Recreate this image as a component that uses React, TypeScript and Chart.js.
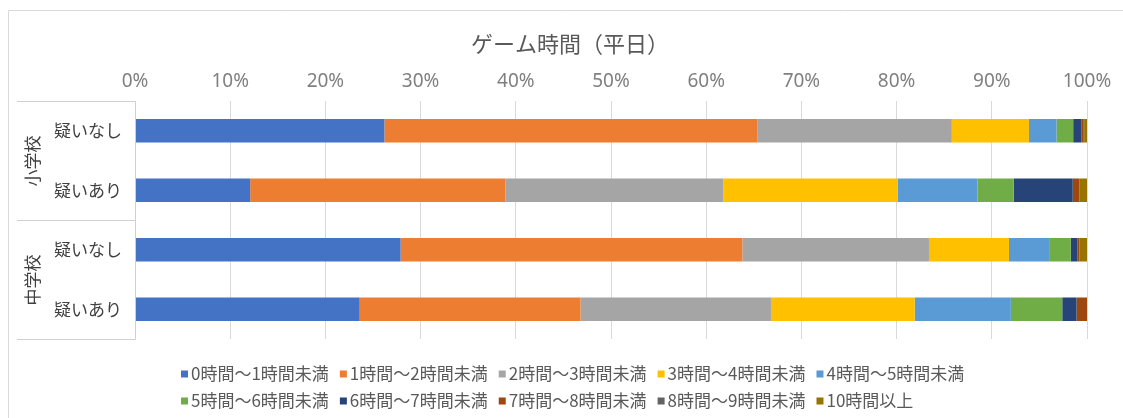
import React, { useEffect, useRef } from 'react';
import { Chart, registerables } from 'chart.js';

Chart.register(...registerables);

const TITLE = 'ゲーム時間（平日）';
const CATEGORIES = ['疑いなし', '疑いあり', '疑いなし', '疑いあり'];
const GROUPS = ['小学校', '中学校'];
const SERIES_NAMES = [
  '0時間～1時間未満',
  '1時間～2時間未満',
  '2時間～3時間未満',
  '3時間～4時間未満',
  '4時間～5時間未満',
  '5時間～6時間未満',
  '6時間～7時間未満',
  '7時間～8時間未満',
  '8時間～9時間未満',
  '10時間以上',
];
const COLORS = ['#4472C4', '#ED7D31', '#A5A5A5', '#FFC000', '#5B9BD5', '#70AD47', '#264478', '#9E480E', '#636363', '#997300'];

const S0 = [26.2, 12.1, 27.9, 23.6];
const S1 = [39.2, 26.8, 35.9, 23.2];
const S2 = [20.4, 22.9, 19.6, 20.0];
const S3 = [8.1, 18.3, 8.4, 15.1];
const S4 = [2.9, 8.4, 4.3, 10.1];
const S5 = [1.75, 3.8, 2.2, 5.4];
const S6 = [0.85, 6.2, 0.7, 1.5];
const S7 = [0.2, 0.7, 0.2, 1.1];
const S8 = [0.1, 0, 0, 0];
const S9 = [0.3, 0.8, 0.8, 0];
const SERIES = [S0, S1, S2, S3, S4, S5, S6, S7, S8, S9];

const X_TICKS = [0, 10, 20, 30, 40, 50, 60, 70, 80, 90, 100];

const JP = '"Noto Sans CJK JP", "Noto Sans", sans-serif';

const decorPlugin = {
  id: 'decor',
  afterDraw(chart: any) {
    const ctx = chart.ctx as CanvasRenderingContext2D;
    const area = chart.chartArea;
    const y = chart.scales.y;
    ctx.save();

    // outer frame
    ctx.strokeStyle = '#d9d9d9';
    ctx.lineWidth = 1;
    ctx.beginPath();
    ctx.moveTo(8.5, 418);
    ctx.lineTo(8.5, 10.5);
    ctx.lineTo(1123, 10.5);
    ctx.stroke();

    // title
    ctx.fillStyle = '#595959';
    ctx.font = '22px ' + JP;
    ctx.textAlign = 'center';
    ctx.textBaseline = 'middle';
    ctx.fillText(TITLE, 570, 44);

    // category separators
    const p1 = y.getPixelForValue(1);
    const p2 = y.getPixelForValue(2);
    const mid = Math.round((p1 + p2) / 2) + 0.5;
    const top = Math.round(area.top) + 0.5;
    const bot = Math.round(area.bottom) + 0.5;
    const axX = Math.round(area.left) + 0.5;
    ctx.strokeStyle = '#d0d0d0';
    ctx.beginPath();
    [top, mid, bot].forEach((yy) => {
      ctx.moveTo(17, yy);
      ctx.lineTo(axX, yy);
    });
    ctx.moveTo(axX, top);
    ctx.lineTo(axX, bot);
    ctx.stroke();

    // inner labels
    ctx.fillStyle = '#404040';
    ctx.font = '17px ' + JP;
    ctx.textAlign = 'right';
    ctx.textBaseline = 'middle';
    CATEGORIES.forEach((lab, i) => {
      ctx.fillText(lab, 122, y.getPixelForValue(i));
    });

    // group labels (vertical)
    const groupCenters = [(top + mid) / 2, (mid + bot) / 2];
    GROUPS.forEach((g, i) => {
      ctx.save();
      ctx.translate(33, groupCenters[i]);
      ctx.rotate(-Math.PI / 2);
      ctx.textAlign = 'center';
      ctx.textBaseline = 'middle';
      ctx.fillText(g, 0, 0);
      ctx.restore();
    });

    // legend
    ctx.font = '17px ' + JP;
    ctx.textAlign = 'left';
    ctx.textBaseline = 'middle';
    ctx.fillStyle = '#595959';
    const rows = [[0, 1, 2, 3, 4], [5, 6, 7, 8, 9]];
    const rowY = [374, 401];
    rows.forEach((row, r) => {
      let x = 181;
      row.forEach((i) => {
        ctx.fillStyle = COLORS[i];
        ctx.fillRect(x, rowY[r] - 3.5, 7, 7);
        ctx.fillStyle = '#595959';
        ctx.fillText(SERIES_NAMES[i], x + 10, rowY[r]);
        x += 10 + ctx.measureText(SERIES_NAMES[i]).width + 11;
      });
    });

    ctx.restore();
  },
};

export default function App() {
  const ref = useRef<HTMLCanvasElement | null>(null);

  useEffect(() => {
    document.body.style.margin = '0';
    document.body.style.overflow = 'hidden';
    const canvas = ref.current;
    if (!canvas) return;
    const chart = new Chart(canvas, {
      type: 'bar',
      data: {
        labels: CATEGORIES,
        datasets: SERIES.map((s, i) => ({
          label: SERIES_NAMES[i],
          data: s,
          backgroundColor: COLORS[i],
          borderWidth: 0,
          barPercentage: 0.395,
          categoryPercentage: 1,
        })),
      },
      options: {
        indexAxis: 'y',
        responsive: false,
        animation: false,
        layout: { padding: { top: 67, left: 135, right: 36, bottom: 79 } },
        plugins: {
          legend: { display: false },
          title: { display: false },
          tooltip: { enabled: false },
        },
        scales: {
          x: {
            type: 'linear',
            position: 'top',
            stacked: true,
            min: 0,
            max: 100,
            afterBuildTicks: (scale: any) => {
              scale.ticks = X_TICKS.map((v) => ({ value: v }));
            },
            afterFit: (scale: any) => {
              scale.height = 34;
            },
            ticks: {
              callback: (v: any) => v + '%',
              color: '#808080',
              font: { family: '"Noto Sans", sans-serif', size: 19 },
              padding: 8,
              maxRotation: 0,
            },
            grid: { color: '#d9d9d9', drawTicks: false },
            border: { display: false },
          },
          y: {
            type: 'category',
            stacked: true,
            display: false,
            grid: { display: false },
          },
        },
      },
      plugins: [decorPlugin],
    });
    return () => chart.destroy();
  }, []);

  return (
    <div style={{ width: 1123, height: 418, background: '#ffffff' }}>
      <canvas ref={ref} width={1123} height={418} style={{ display: 'block' }} />
    </div>
  );
}
